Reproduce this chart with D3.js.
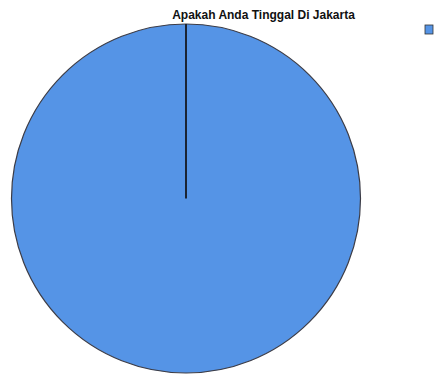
<!DOCTYPE html>
<html><head><meta charset="utf-8">
<script src="https://cdn.jsdelivr.net/npm/d3@7"></script>
<style>html,body{margin:0;padding:0;background:#fff;overflow:hidden}</style>
</head><body>
<svg id="c" width="435" height="376"></svg>
<script>
const title = "Apakah Anda Tinggal Di Jakarta";
const categories = ["Ya"];
const values = [100];
const colors = ["#5594e6"];

const svg = d3.select("#c");
const cx = 186, cy = 198.5, r = 174.5;

const pie = d3.pie().sort(null).value(d => d.v)(categories.map((c, i) => ({c, v: values[i]})));
const arc = d3.arc().innerRadius(0).outerRadius(r);
const color = d3.scaleOrdinal().domain(categories).range(colors);

const g = svg.append("g").attr("transform", `translate(${cx},${cy})`);
g.selectAll("path").data(pie).join("path")
  .attr("d", arc)
  .attr("fill", d => color(d.data.c))
  .attr("stroke", "#3c3c46")
  .attr("stroke-width", 1.2);

// slice boundary line (start angle)
pie.forEach(d => {
  const a = d.startAngle;
  g.append("line")
    .attr("x1", 0).attr("y1", 0)
    .attr("x2", r * Math.sin(a)).attr("y2", -r * Math.cos(a))
    .attr("stroke", "#1b2433").attr("stroke-width", 2);
});

svg.append("text")
  .attr("x", 263.5).attr("y", 19)
  .attr("text-anchor", "middle")
  .attr("font-family", "Liberation Sans, Arial, sans-serif")
  .attr("font-size", 12).attr("font-weight", "bold")
  .attr("fill", "#111")
  .text(title);

// legend swatches (labels fall outside the visible area in the reference)
const leg = svg.append("g").attr("transform", "translate(425,25)");
categories.forEach((c, i) => {
  leg.append("rect").attr("x", 0).attr("y", i * 16).attr("width", 8).attr("height", 9)
    .attr("fill", color(c)).attr("stroke", "#333").attr("stroke-width", 0.8);
});
</script>
</body></html>
